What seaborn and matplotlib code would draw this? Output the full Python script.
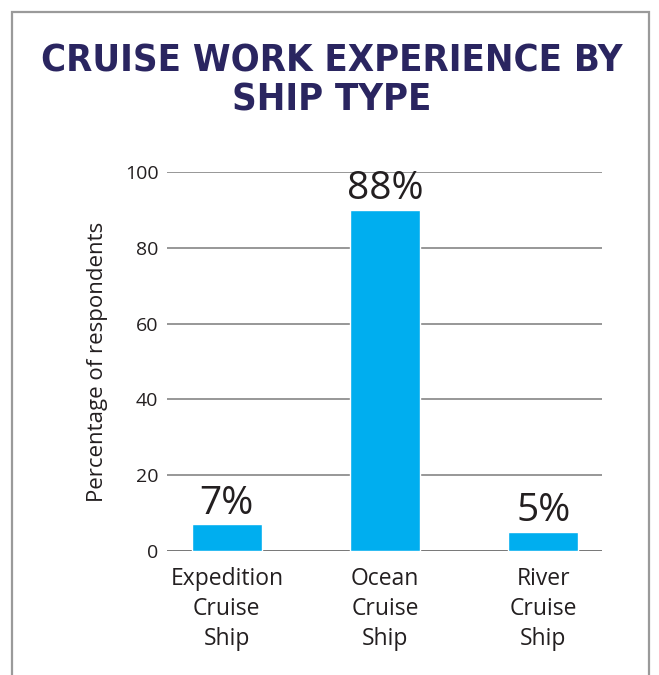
import matplotlib.pyplot as plt
import matplotlib.patches as mpatches
import pandas as pd
import seaborn as sns

ship_types = ["Expedition\nCruise\nShip", "Ocean\nCruise\nShip", "River\nCruise\nShip"]
bar_heights = [7, 90, 5]
bar_labels = ["7%", "88%", "5%"]
y_ticks = [0, 20, 40, 60, 80, 100]

BAR_COLOR = "#00AEEF"
TITLE_COLOR = "#2A2560"
TEXT_COLOR = "#231F20"

df = pd.DataFrame({"ship": ship_types, "pct": bar_heights})

sns.set_style("white")
plt.rcParams["font.family"] = ["Open Sans", "DejaVu Sans"]

fig = plt.figure(figsize=(6.59, 6.75), dpi=100)
ax = fig.add_axes([0.253, 0.184, 0.66, 0.561])

sns.barplot(data=df, x="ship", y="pct", color=BAR_COLOR, width=0.44,
            saturation=1, ax=ax)

for i, lab in enumerate(bar_labels):
    ax.text(i, bar_heights[i] + 0.4, lab, ha="center", va="bottom",
            fontsize=28, color=TEXT_COLOR)

ax.set_xlim(-0.38, 2.37)
ax.set_ylim(0, 100)
ax.set_yticks(y_ticks)
ax.yaxis.grid(True, color="#7a7a7a", linewidth=1.1)
ax.set_axisbelow(True)
for s in ax.spines.values():
    s.set_visible(False)
ax.axhline(0, color="#6d6d6d", linewidth=1.3, zorder=0.5)
ax.tick_params(axis="both", length=0, colors=TEXT_COLOR)
ax.tick_params(axis="y", pad=6, labelsize=14)
ax.tick_params(axis="x", pad=12, labelsize=16.5)
ax.set_xlabel("")
ax.set_ylabel("Percentage of respondents", fontsize=16, color=TEXT_COLOR,
              labelpad=12)
for t in ax.get_xticklabels():
    t.set_linespacing(1.32)

fig.text(0.503, 0.880, "CRUISE WORK EXPERIENCE BY\nSHIP TYPE", ha="center",
         va="center", fontsize=27.4, fontweight="bold", fontstretch="condensed",
         color=TITLE_COLOR, family=["DejaVu Sans"], linespacing=1.12)

# frame around the graphic, open at the bottom
frame = mpatches.Rectangle((12 / 659, -0.05), 637 / 659, 1 - 12 / 675 + 0.05,
                           transform=fig.transFigure, fill=False,
                           edgecolor="#9a9a9a", linewidth=1.6)
fig.patches.append(frame)

fig.savefig("out.png", dpi=100)
plt.close(fig)
